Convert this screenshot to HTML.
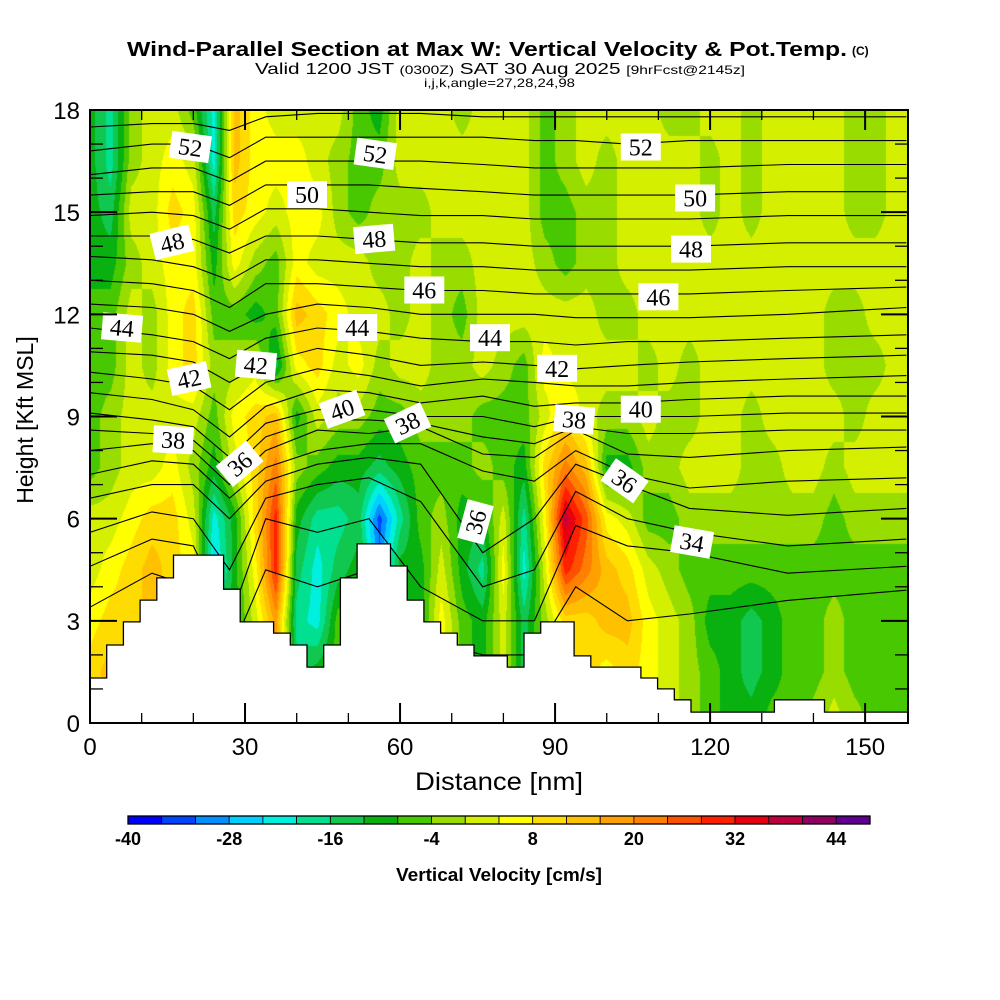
<!DOCTYPE html>
<html><head><meta charset="utf-8">
<style>
html,body{margin:0;padding:0;background:#fff;}
#wrap{position:relative;width:1000px;height:1000px;overflow:hidden;background:#fff;font-family:"Liberation Sans",sans-serif;}
#field{position:absolute;left:90px;top:110px;}
#ov{position:absolute;left:0;top:0;}
</style></head>
<body>
<div id="wrap">
<canvas id="field" width="818" height="613"></canvas>
<svg id="ov" width="1000" height="1000" xmlns="http://www.w3.org/2000/svg">
<g font-family="Liberation Sans, sans-serif">
<text x="127" y="56" font-size="20" font-weight="bold" textLength="720" lengthAdjust="spacingAndGlyphs">Wind-Parallel Section at Max W: Vertical Velocity &amp; Pot.Temp.</text>
<text x="852" y="55" font-size="12" font-weight="bold">(C)</text>
<text x="255" y="74" font-size="16" textLength="490" lengthAdjust="spacingAndGlyphs">Valid 1200 JST <tspan font-size="12">(0300Z)</tspan> SAT 30 Aug 2025 <tspan font-size="12">[9hrFcst@2145z]</tspan></text>
<text x="424" y="87" font-size="12" textLength="151" lengthAdjust="spacingAndGlyphs">i,j,k,angle=27,28,24,98</text>
</g>
<g id="contours"></g>
<g id="terrain"></g>
<g id="labels"></g>
<g id="axes"></g>
<g id="cbar"></g>
</svg>
</div>
<script>
// ---- data ----
const vvCols = [0,4,8,12,16,20,24,28,32,36,40,44,48,52,56,60,64,68,72,76,80,84,88,92,96,100,104,108,112,116,120,124,128,132,136,140,144,148,152,156,160];
const vvRows = [0,1.5,3,4.5,6,7.5,9,10.5,12,13.5,15,16.5,18];
const vvValues = [
[10,10,6,2,2,-6,-6,-6,-6,-10,-10,-10,-10],
[10,14,10,6,2,-2,-2,-6,-6,-10,-14,-18,-18],
[10,14,10,10,6,2,2,2,2,-2,2,-2,-2],
[10,14,14,14,10,2,2,-2,-2,2,2,2,2],
[10,10,10,10,10,6,2,6,6,6,10,6,2],
[6,6,6,6,2,-2,2,10,10,6,6,2,-6],
[-10,-10,-14,-26,-22,-10,-6,-2,-6,-10,-14,-22,-22],
[-10,-10,-10,-10,-10,2,6,-2,-6,6,10,14,14],
[2,2,2,6,10,10,10,2,-10,-2,6,6,6],
[18,18,18,30,30,22,14,-14,-6,-6,2,6,2],
[-14,-14,-18,-14,-10,-2,-10,6,14,6,6,6,2],
[-10,-10,-22,-22,-18,-6,2,10,10,2,6,2,2],
[-6,-6,-6,-14,-18,-10,-2,2,6,2,-2,-2,2],
[-10,-10,-10,-10,-14,-10,-2,6,2,2,-6,-6,-6],
[-20,-20,-20,-30,-34,-14,-6,-2,2,-2,-2,-6,-10],
[-10,-10,-10,-10,-18,-10,-6,2,-2,-2,-2,2,2],
[-10,-10,-10,-10,-6,-6,-2,2,2,2,-2,2,2],
[6,6,6,2,-2,-6,-2,-2,-2,-2,2,2,2],
[-6,-6,-6,-10,-10,-6,-2,-2,-6,-2,2,2,-2],
[-10,-10,-10,-18,-10,-2,-6,2,2,2,2,2,2],
[2,2,2,6,2,-6,-6,-2,2,2,2,2,2],
[-14,-14,-14,-22,-18,-10,-6,-6,2,2,2,2,2],
[-2,-2,-2,2,6,10,2,6,2,-2,-6,-6,-6],
[10,10,10,30,38,22,10,2,2,-6,-6,-2,-2],
[10,10,10,22,26,14,2,2,2,-2,-2,2,2],
[6,6,14,14,6,-10,-2,2,-2,-2,-2,-2,2],
[10,10,14,10,2,-10,-2,2,-2,2,2,2,2],
[6,6,6,2,-6,-2,2,-2,2,2,2,2,2],
[2,2,2,-2,-6,-2,-2,2,2,2,2,2,-2],
[-2,-2,-2,-6,-2,2,-2,-2,2,2,2,2,-2],
[-6,-6,-10,-6,-2,2,2,2,2,2,-2,-2,2],
[-10,-10,-10,-6,-2,2,2,2,2,2,2,2,2],
[-10,-14,-14,-6,-2,-2,-2,2,2,2,-2,-2,-2],
[-6,-10,-10,-6,-2,-2,2,2,2,2,2,2,2],
[-6,-6,-6,-6,-2,2,2,2,2,2,2,2,2],
[-2,-6,-6,-6,-2,2,2,2,2,2,2,2,2],
[2,-2,-2,-6,-6,-2,2,-2,-2,2,2,2,2],
[-2,-6,-6,-6,-2,2,-2,-2,-2,2,-2,-2,-2],
[-6,-6,-6,-6,-2,2,2,-2,2,2,-2,-2,-2],
[-6,-6,-6,-6,-2,2,2,2,2,2,2,2,2],
[-6,-6,-6,-6,-2,2,2,2,2,2,2,2,2]
];
const cbarLevels = [-40,-36,-32,-28,-24,-20,-16,-12,-8,-4,0,4,8,12,16,20,24,28,32,36,40,44,48];
const cbarColors = ["#0000ff","#0044ff","#0090ff","#00d0ff","#00f0e0","#00e090","#10c850","#08b010","#48c800","#98dc00","#d4f000","#ffff00","#ffdc00","#ffc000","#ffa000","#ff8000","#ff5000","#ff2000","#e80010","#c00040","#900060","#600090"];
const cbarTickLabels = [-40,-28,-16,-4,8,20,32,44];
const terrainH = [1.32,2.29,2.97,3.61,4.26,4.93,4.93,4.93,3.93,2.97,2.97,2.64,2.29,1.64,2.29,4.26,5.26,5.26,4.61,3.61,2.97,2.64,2.29,1.97,1.97,1.64,2.64,2.97,2.97,1.97,1.64,1.64,1.64,1.32,1.0,0.68,0.32,0.32,0.32,0.32,0.32,0.68,0.68,0.68,0.32,0.32,0.32,0.32,0.32];
const thetaX = [0,12,20,27,34,44,54,64,76,86,94,104,116,135,158];
const thetaLevels = [53,52,51,50,49,48,47,46,45,44,43,42,41,40,39,38,37,36,35,34,33];
const thetaH = [
[17.5,17.6,17.6,17.4,17.8,17.9,17.9,17.9,17.8,17.8,17.8,17.8,17.8,17.8,17.8],
[16.8,17.0,17.0,16.6,17.2,17.2,17.2,17.2,17.2,17.1,17.1,17.0,17.1,17.1,17.1],
[16.1,16.3,16.3,15.9,16.5,16.5,16.5,16.5,16.4,16.3,16.3,16.3,16.3,16.4,16.4],
[15.5,15.6,15.6,15.2,15.8,15.8,15.8,15.7,15.6,15.5,15.5,15.5,15.5,15.6,15.6],
[14.9,15.0,14.9,14.5,15.1,15.1,15.0,14.9,14.9,14.8,14.8,14.8,14.8,14.9,14.9],
[14.3,14.3,14.2,13.8,14.3,14.3,14.2,14.1,14.1,14.0,14.0,14.0,14.0,14.1,14.1],
[13.7,13.6,13.4,13.0,13.6,13.6,13.5,13.4,13.4,13.3,13.3,13.3,13.3,13.4,13.4],
[13.0,12.9,12.7,12.2,12.9,12.9,12.8,12.7,12.7,12.6,12.6,12.6,12.6,12.7,12.8],
[12.3,12.2,12.0,11.5,12.0,12.3,12.2,12.0,12.0,12.0,11.9,11.9,11.9,12.0,12.2],
[11.6,11.4,11.2,10.7,11.3,11.6,11.5,11.3,11.2,11.2,11.1,11.2,11.2,11.3,11.4],
[10.9,10.8,10.6,10.0,10.6,11.0,10.8,10.5,10.6,10.5,10.4,10.5,10.6,10.7,10.8],
[10.3,10.1,9.9,9.2,10.0,10.4,10.2,9.9,10.1,10.0,9.9,9.9,10.0,10.1,10.2],
[9.7,9.5,9.2,8.4,9.3,9.8,9.7,9.4,9.6,9.3,9.4,9.4,9.5,9.6,9.6],
[9.1,8.9,8.7,7.8,8.8,9.2,9.2,9.0,9.0,8.7,9.0,9.0,9.0,9.1,9.1],
[8.6,8.5,8.3,7.4,8.4,8.9,8.9,8.8,8.4,8.2,8.7,8.5,8.5,8.6,8.6],
[8.0,8.2,8.0,7.0,8.0,8.6,8.5,8.7,7.9,7.8,8.6,7.9,7.8,8.0,8.1],
[7.3,7.7,7.6,6.6,7.5,8.0,8.2,8.2,7.4,7.1,8.0,7.3,6.9,7.1,7.2],
[6.6,7.0,7.0,6.0,7.1,7.6,7.8,7.6,5.0,6.0,7.6,7.0,6.3,6.1,6.3],
[5.6,6.2,6.0,4.5,6.6,7.0,7.2,6.5,4.0,4.5,6.8,6.0,5.6,5.2,5.4],
[4.6,5.4,5.2,3.0,6.0,5.6,6.0,4.0,3.0,3.0,5.8,5.2,5.0,4.4,4.6],
[3.4,4.4,4.0,2.0,4.5,4.0,4.5,2.5,2.0,2.0,4.0,3.0,3.2,3.6,3.9]
];
const labelText = ["52","52","52","50","50","48","48","48","46","46","44","44","44","42","42","42","40","40","38","38","38","36","36","36","34"];
const labelNm = [19.4,55.2,106.6,42.0,117.1,15.9,55,116.3,64.7,110,6.2,51.7,77.4,19.2,32.1,90.4,48.8,106.6,61.5,16.1,93.7,29.0,74.7,103.4,116.5];
const labelKft = [16.9,16.7,16.9,15.5,15.4,14.1,14.2,13.9,12.7,12.5,11.6,11.6,11.3,10.1,10.5,10.4,9.2,9.2,8.8,8.3,8.9,7.6,5.9,7.1,5.3];
const labelRot = [8,8,0,0,0,-14,-5,0,0,0,5,0,0,-12,5,0,-20,0,-25,3,5,-40,-75,35,10];

// ---- scales ----
const X0=90,X1=908,Y0=723,Y1=110,XMAX=158.3,YMAX=18;
function xs(nm){return X0+nm*(X1-X0)/XMAX;}
function ys(h){return Y0-h*(Y0-Y1)/YMAX;}
const NS="http://www.w3.org/2000/svg";
function mk(tag,attrs,parent){const e=document.createElementNS(NS,tag);for(const k in attrs)e.setAttribute(k,attrs[k]);parent.appendChild(e);return e;}

// ---- field ----
(function(){
 const cv=document.getElementById('field');const ctx=cv.getContext('2d');
 const W=cv.width,H=cv.height;const img=ctx.createImageData(W,H);
 const rgb=cbarColors.map(c=>[parseInt(c.substr(1,2),16),parseInt(c.substr(3,2),16),parseInt(c.substr(5,2),16)]);
 const dc=vvCols[1]-vvCols[0],dr=vvRows[1]-vvRows[0];
 for(let py=0;py<H;py++){
  const h=(H-py-0.5)/H*YMAX;let r=h/dr;let ri=Math.min(Math.floor(r),vvRows.length-2);let fr=r-ri;
  for(let px=0;px<W;px++){
   const nm=(px+0.5)/W*XMAX;let c=nm/dc;let ci=Math.min(Math.floor(c),vvCols.length-2);let fc=c-ci;
   const v=(vvValues[ci][ri]*(1-fc)+vvValues[ci+1][ri]*fc)*(1-fr)+(vvValues[ci][ri+1]*(1-fc)+vvValues[ci+1][ri+1]*fc)*fr;
   let i=Math.floor((v-cbarLevels[0])/4);if(i<0)i=0;if(i>rgb.length-1)i=rgb.length-1;
   const o=(py*W+px)*4;img.data[o]=rgb[i][0];img.data[o+1]=rgb[i][1];img.data[o+2]=rgb[i][2];img.data[o+3]=255;
  }
 }
 ctx.putImageData(img,0,0);
})();

// ---- contours ----
(function(){
 const g=document.getElementById('contours');
 const defs=mk('defs',{},g);const cp=mk('clipPath',{id:'plotclip'},defs);
 mk('rect',{x:X0,y:Y1,width:X1-X0,height:Y0-Y1},cp);
 const gg=mk('g',{'clip-path':'url(#plotclip)'},g);
 thetaLevels.forEach((lv,i)=>{
  let d='';thetaX.forEach((x,j)=>{d+=(j?'L':'M')+xs(x).toFixed(1)+' '+ys(thetaH[i][j]).toFixed(1);});
  const p=mk('path',{d:d,fill:'none',stroke:'#000','stroke-width':'1.1'},gg);
  
  
 });
})();

// ---- terrain ----
(function(){
 const g=document.getElementById('terrain');const step=XMAX/terrainH.length;
 let d='M'+xs(0)+' '+Y0;
 terrainH.forEach((h,i)=>{d+='L'+xs(i*step).toFixed(1)+' '+ys(h).toFixed(1)+'L'+xs((i+1)*step).toFixed(1)+' '+ys(h).toFixed(1);});
 d+='L'+X1+' '+Y0+'Z';
 const p=mk('path',{d:d,fill:'#fff',stroke:'#000','stroke-width':'1.3'},g);
 
 
})();

// ---- labels ----
(function(){
 const g=document.getElementById('labels');
 labelText.forEach((t,i)=>{
  const cx=xs(labelNm[i]),cy=ys(labelKft[i]);
  const lg=mk('g',{transform:'translate('+cx.toFixed(1)+','+cy.toFixed(1)+') rotate('+labelRot[i]+')'},g);
  
  
  mk('rect',{x:-20,y:-14,width:40,height:27,fill:'#fff'},lg);
  const tx=mk('text',{x:0,y:8,'text-anchor':'middle','font-family':'Liberation Serif, serif','font-size':'24'},lg);
  tx.textContent=t;
 });
})();

// ---- axes ----
(function(){
 const g=document.getElementById('axes');
 const fr=mk('rect',{x:X0,y:Y1,width:X1-X0,height:Y0-Y1,fill:'none',stroke:'#000','stroke-width':'2'},g);
 
 
 for(let nm=0;nm<=XMAX;nm+=10){
  const major=nm%30===0;const L=major?20:10;const x=xs(nm);
  mk('line',{x1:x,y1:Y0,x2:x,y2:Y0-L,stroke:'#000','stroke-width':major?2:1.3},g);
  mk('line',{x1:x,y1:Y1,x2:x,y2:Y1+L,stroke:'#000','stroke-width':major?2:1.3},g);
  if(major){const t=mk('text',{x:x,y:755,'text-anchor':'middle','font-size':'24'},g);t.textContent=nm;
   
   }
 }
 for(let h=0;h<=18;h+=1){
  const major=h%3===0;const L=major?27:13;const y=ys(h);
  mk('line',{x1:X0,y1:y,x2:X0+L,y2:y,stroke:'#000','stroke-width':major?2:1.3},g);
  mk('line',{x1:X1,y1:y,x2:X1-L,y2:y,stroke:'#000','stroke-width':major?2:1.3},g);
  if(major){const t=mk('text',{x:80,y:y+9,'text-anchor':'end','font-size':'24'},g);t.textContent=h;
   
   }
 }
 const xt=mk('text',{x:499,y:790,'text-anchor':'middle','font-size':'25',textLength:'168',lengthAdjust:'spacingAndGlyphs'},g);xt.textContent='Distance [nm]';
 
 
 const yt=mk('text',{x:33,y:420,'text-anchor':'middle','font-size':'23',transform:'rotate(-90 33 420)'},g);yt.textContent='Height [Kft MSL]';
 
 
})();

// ---- colorbar ----
(function(){
 const g=document.getElementById('cbar');const cx0=128,cx1=870,cy=816,ch=8;
 const bw=(cx1-cx0)/cbarColors.length;
 function cbx(v){return cx0+(v-cbarLevels[0])/(cbarLevels[cbarLevels.length-1]-cbarLevels[0])*(cx1-cx0);}
 cbarColors.forEach((c,i)=>{
  const r=mk('rect',{x:cbx(cbarLevels[i]).toFixed(1),y:cy,width:bw.toFixed(1),height:ch,fill:c,stroke:'#000','stroke-width':'0.8'},g);
  
  
 });
 mk('rect',{x:cx0,y:cy,width:cx1-cx0,height:ch,fill:'none',stroke:'#000','stroke-width':'1.3'},g);
 cbarTickLabels.forEach(v=>{
  const t=mk('text',{x:cbx(v).toFixed(1),y:845,'text-anchor':'middle','font-size':'18','font-weight':'bold'},g);t.textContent=v;
  
  
 });
 const tt=mk('text',{x:499,y:881,'text-anchor':'middle','font-size':'18','font-weight':'bold',textLength:'206',lengthAdjust:'spacingAndGlyphs'},g);tt.textContent='Vertical Velocity [cm/s]';
 
 
})();
</script>
</body></html>
